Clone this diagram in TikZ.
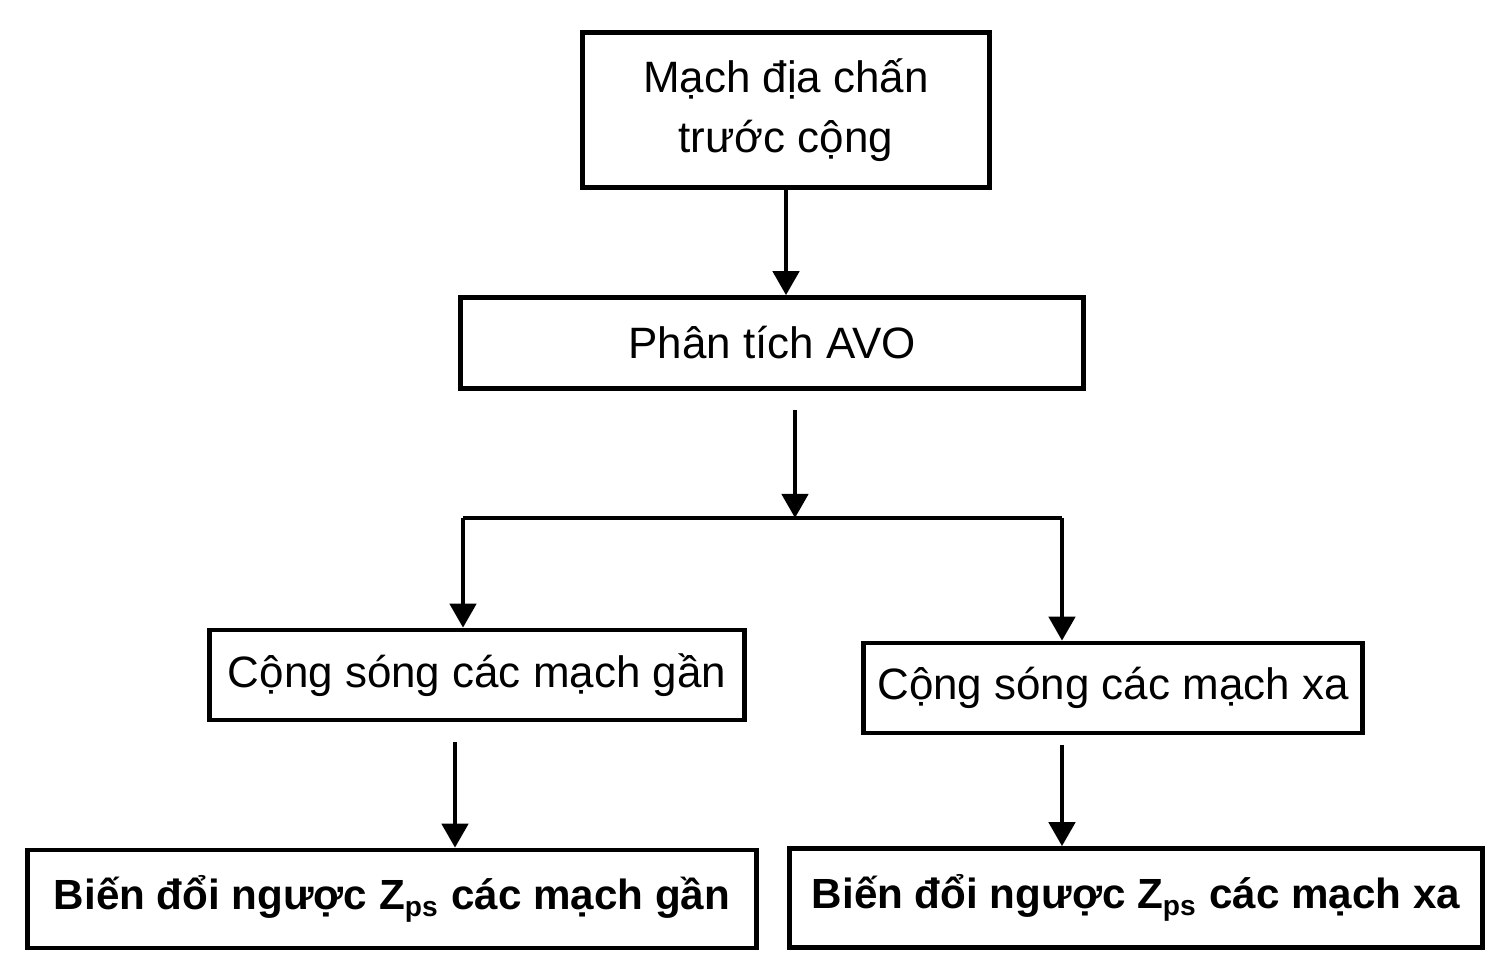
\documentclass[tikz,border=0pt]{standalone}
\usepackage{fontspec}
\setmainfont{Liberation Sans}
\usetikzlibrary{arrows.meta, positioning}

\begin{document}
\begin{tikzpicture}[x=1cm, y=1cm]
 \tikzstyle{pbox}=[draw, line width=1.3pt, align=center, inner xsep=1pt, font=\fontsize{12.5}{17}\selectfont]
 \tikzstyle{bbox}=[pbox, font=\fontsize{12}{17}\selectfont\bfseries]
 \tikzstyle{line}=[draw, line width=1.3pt, -{Triangle[width=0.26cm,length=0.24cm]}]
 \useasboundingbox (0,0) rectangle (15,-9.74);

 % boxes
 \node[pbox, minimum width=4.07cm, minimum height=1.55cm] (seis) at (7.86,-1.10) {Mạch địa chấn\\trước cộng};
 \node[pbox, minimum width=6.23cm, minimum height=0.91cm] (avo) at (7.72,-3.43) {Phân tích AVO};
 \node[pbox, minimum width=5.35cm, minimum height=0.90cm] (near) at (4.77,-6.75) {Cộng sóng các mạch gần};
 \node[pbox, minimum width=4.99cm, minimum height=0.90cm] (far) at (11.13,-6.88) {Cộng sóng các mạch xa};
 \node[bbox, minimum width=7.29cm, minimum height=0.98cm] (invn) at (3.92,-8.99) {Biến đổi ngược Z\textsubscript{ps} các mạch gần};
 \node[bbox, minimum width=6.93cm, minimum height=0.99cm] (invf) at (11.36,-8.98) {Biến đổi ngược Z\textsubscript{ps} các mạch xa};

 % connectors
 \coordinate (a0) at (7.95,-4.10);
 \coordinate (j) at (7.95,-5.18);
 \coordinate (jl) at (4.63,-5.18);
 \coordinate (jr) at (10.62,-5.18);
 \coordinate (n0) at (4.55,-7.42);
 \coordinate (f0) at (10.62,-7.45);
 \path [line] (seis.south) -- (seis.south |- avo.north);
 \path [line] (a0) -- (j);
 \draw[line width=1.3pt] (jl) -- (jr);
 \path [line] (jl) -- (jl |- near.north);
 \path [line] (jr) -- (jr |- far.north);
 \path [line] (n0) -- (n0 |- invn.north);
 \path [line] (f0) -- (f0 |- invf.north);
\end{tikzpicture}
\end{document}
